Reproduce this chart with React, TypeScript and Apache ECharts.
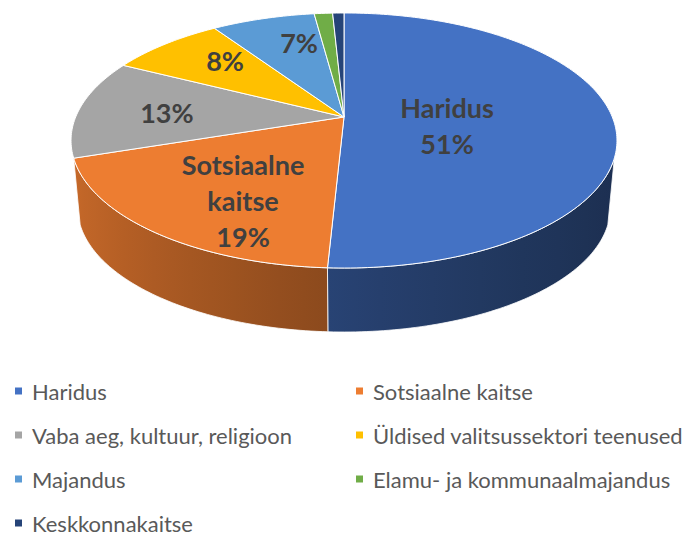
import React, { useEffect, useRef } from "react";
import * as echarts from "echarts";

// ---- data ----
const categories = [
  "Haridus",
  "Sotsiaalne kaitse",
  "Vaba aeg, kultuur, religioon",
  "Üldised valitsussektori teenused",
  "Majandus",
  "Elamu- ja kommunaalmajandus",
  "Keskkonnakaitse",
];
const shares = [50.8, 19.1, 12.6, 8.1, 7.3, 1.3, 0.8];
const labelShown = [true, true, true, true, true, false, false];
const labelWithName = [true, true, false, false, false, false, false];

// ---- style / layout ----
const colors = ["#4472C4", "#ED7D31", "#A5A5A5", "#FFC000", "#5B9BD5", "#70AD47", "#264478"];
const LABEL_R = [0.385, 0.687, 0.665, 0.7, 0.711, 0.7, 0.7];
const LABEL_DA = [8.2, -8.1, -1.5, 4.6, 5.3, 0, 0];

// ---- geometry (perspective projection of the pie plane) ----
const CX = 344;
const CY = 117;
const S = 268.3;
const T = 123.2;
const K = 0.1843;
const F = 0.976;
const D = 67.6;
const WALL_FROM = 108.4;
const WALL_TO = 251.6;

function proj(u: number, v: number, bottom: boolean): number[] {
  const w = 1 - K * v;
  const f = bottom ? F : 1;
  return [CX + (f * S * u) / w, CY + (bottom ? D : 0) + (f * T * v) / w];
}
function rim(deg: number, bottom: boolean, r = 1): number[] {
  const t = (deg * Math.PI) / 180;
  return proj(r * Math.sin(t), -r * Math.cos(t), bottom);
}
function hexToRgb(h: string) {
  const n = parseInt(h.slice(1), 16);
  return [(n >> 16) & 255, (n >> 8) & 255, n & 255];
}
function shade(h: string, deg: number) {
  const u = Math.sin((deg * Math.PI) / 180);
  const f = 0.58 - 0.22 * u + 0.05 * u * u;
  const [r, g, b] = hexToRgb(h);
  return `rgb(${Math.round(r * f)},${Math.round(g * f)},${Math.round(b * f)})`;
}

export default function App() {
  const ref = useRef<HTMLDivElement>(null);
  useEffect(() => {
    if (!ref.current) return;
    const chart = echarts.init(ref.current, undefined, { renderer: "svg" });
    const total = shares.reduce((a, b) => a + b, 0);
    const cum: number[] = [];
    let acc = 0;
    for (const v of shares) {
      cum.push(acc);
      acc += v;
    }

    const graphics: any[] = [];
    categories.forEach((name, i) => {
      const row = Math.floor(i / 2);
      const col = i % 2;
      const x = col === 0 ? 15 : 356;
      const y = 391 + row * 44;
      graphics.push({
        type: "rect",
        shape: { x, y: y - 3.5, width: 7, height: 7 },
        style: { fill: colors[i] },
      });
      graphics.push({
        type: "text",
        x: x + 17,
        y,
        style: {
          text: name,
          fill: "#595959",
          font: "22px Lato",
          verticalAlign: "middle",
          align: "left",
        },
      });
    });

    chart.setOption({
      animation: false,
      graphic: graphics,
      series: [
        {
          type: "custom",
          coordinateSystem: "none",
          silent: true,
          data: shares.map((v, i) => ({ value: v, name: categories[i] })),
          renderItem: (params: any, api: any) => {
            const i = params.dataIndex;
            const v = api.value(0);
            const a0 = (cum[i] / total) * 360;
            const a1 = ((cum[i] + v) / total) * 360;
            const children: any[] = [];
            // top face
            const n = Math.max(2, Math.ceil(a1 - a0));
            const pts: number[][] = [proj(0, 0, false)];
            for (let k = 0; k <= n; k++) pts.push(rim(a0 + ((a1 - a0) * k) / n, false));
            children.push({
              type: "polygon",
              z2: 2,
              shape: { points: pts },
              style: { fill: colors[i], stroke: "#ffffff", lineWidth: 1, lineJoin: "round" },
            });
            // side wall (visible front part only)
            const w0 = Math.max(a0, WALL_FROM);
            const w1 = Math.min(a1, WALL_TO);
            if (w1 > w0) {
              const m = Math.max(2, Math.ceil(w1 - w0));
              const top: number[][] = [];
              const bot: number[][] = [];
              for (let k = 0; k <= m; k++) {
                const d = w0 + ((w1 - w0) * k) / m;
                top.push(rim(d, false));
                bot.push(rim(d, true));
              }
              const poly = top.concat(bot.reverse());
              const xs = poly.map((p) => p[0]);
              const xl = Math.min(...xs);
              const xr = Math.max(...xs);
              const stops: any[] = [];
              const steps = 8;
              for (let k = 0; k <= steps; k++) {
                const d = w1 - ((w1 - w0) * k) / steps;
                const px = rim(d, false)[0];
                const off = xr > xl ? (px - xl) / (xr - xl) : 0;
                stops.push({ offset: Math.min(1, Math.max(0, off)), color: shade(colors[i], d) });
              }
              stops.sort((a, b) => a.offset - b.offset);
              children.push({
                type: "polygon",
                z2: 1,
                shape: { points: poly },
                style: {
                  fill: {
                    type: "linear",
                    x: xl,
                    y: 0,
                    x2: xr,
                    y2: 0,
                    global: true,
                    colorStops: stops,
                  },
                  stroke: "#ffffff",
                  lineWidth: 0.8,
                },
              });
            }
            // label
            if (labelShown[i]) {
              const mid = (a0 + a1) / 2 + LABEL_DA[i];
              const p = rim(mid, false, LABEL_R[i]);
              const pct = Math.round((v / total) * 100) + "%";
              const txt = labelWithName[i]
                ? categories[i].replace(/ /g, "\n") + "\n" + pct
                : pct;
              children.push({
                type: "text",
                z2: 3,
                x: p[0],
                y: p[1],
                style: {
                  text: txt,
                  fill: "#404040",
                  font: "bold 27px Lato",
                  align: "center",
                  verticalAlign: "middle",
                  lineHeight: 36,
                },
              });
            }
            return { type: "group", children };
          },
        },
      ],
    });
    return () => chart.dispose();
  }, []);
  return (
    <div
      ref={ref}
      style={{ position: "absolute", left: 0, top: 0, width: 689, height: 535 }}
    />
  );
}
